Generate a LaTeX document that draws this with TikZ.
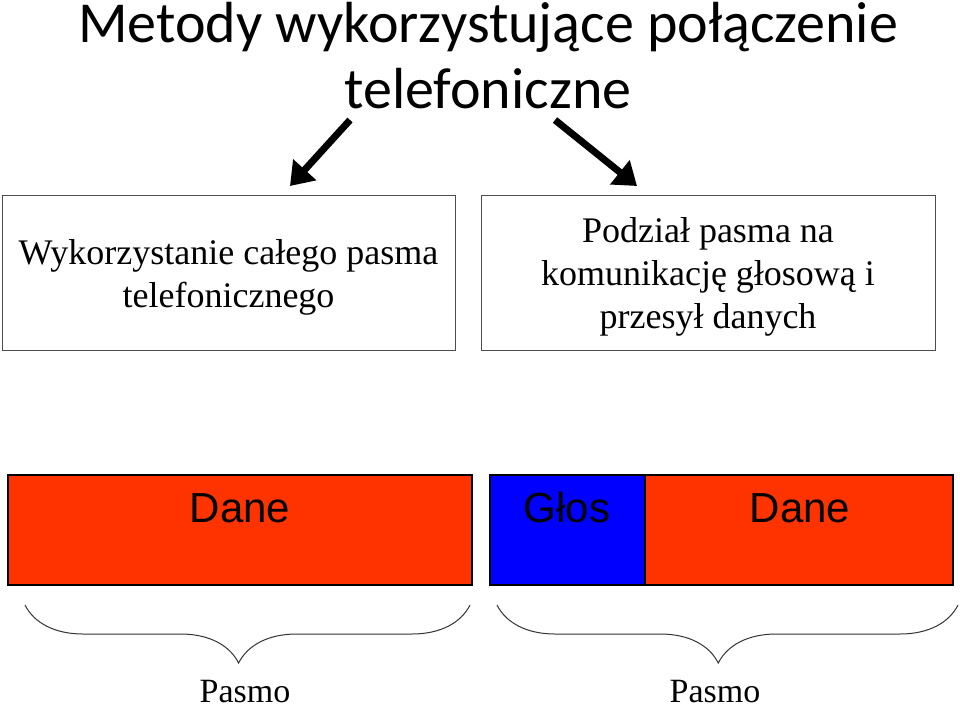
\documentclass[tikz,border=0pt]{standalone}
\usepackage{fontspec}
\setmainfont{Liberation Serif}
\newfontfamily\titlefont{Carlito}
\newfontfamily\barfont{Liberation Sans}
\usetikzlibrary{arrows.meta,decorations.pathreplacing}
\definecolor{barred}{HTML}{FF3300}
\begin{document}
\begin{tikzpicture}[x=1pt,y=-1pt,
  ttl/.style={font=\titlefont\fontsize{58}{64}\selectfont,anchor=base,inner sep=0pt},
  boxtxt/.style={font=\fontsize{36}{43}\selectfont,align=center},
  frame/.style={draw=black!70,line width=1pt},
  bar/.style={draw=black,line width=2.5pt},
  bartxt/.style={font=\barfont\fontsize{42}{48}\selectfont,anchor=base,inner sep=0pt},
  bigarrow/.style={line width=7pt,-{Triangle[length=22pt,width=30pt]}},
  brc/.style={decorate,decoration={brace,mirror,amplitude=58pt,aspect=0.48},line width=1pt,black!80},
  lbl/.style={font=\fontsize{34}{40}\selectfont,anchor=base,inner sep=0pt}]
\useasboundingbox (0,0) rectangle (960,705);
\node[ttl] (t1) at (488,42) {Metody wykorzystujące połączenie};
\node[ttl] (t2) at (488,108) {telefoniczne};
\coordinate (a1s) at (350,120); \coordinate (a1e) at (290,186);
\coordinate (a2s) at (555,120); \coordinate (a2e) at (637,186);
\draw[bigarrow] (a1s) -- (a1e);
\draw[bigarrow] (a2s) -- (a2e);
\node[frame,minimum width=453pt,minimum height=155pt,inner sep=0pt] (b1) at (228.5,272.5) {};
\node[boxtxt] at ([yshift=-5pt]b1.center) {Wykorzystanie całego pasma\\telefonicznego};
\node[frame,minimum width=454pt,minimum height=155pt,inner sep=0pt] (b2) at (708,272.5) {};
\node[boxtxt] at ([yshift=-4pt]b2.center) {Podział pasma na\\komunikację głosową i\\przesył danych};
\node[bar,fill=barred,minimum width=464pt,minimum height=110pt,inner sep=0pt] (r1) at (240,530) {};
\node[bar,fill=blue,minimum width=155pt,minimum height=110pt,inner sep=0pt] (g) at (567.5,530) {};
\node[bar,fill=barred,minimum width=308pt,minimum height=110pt,inner sep=0pt] (r2) at (799,530) {};
\node[bartxt] at (240,522) {Dane};
\node[bartxt] at (567,522) {Głos};
\node[bartxt] at (800,522) {Dane};
\coordinate (c1) at (25,605); \coordinate (c2) at (470,605);
\coordinate (c3) at (497,605); \coordinate (c4) at (958,605);
\draw[brc] (c1) -- (c2);
\draw[brc] (c3) -- (c4);
\node[lbl] (p1) at (245,702) {Pasmo};
\node[lbl] (p2) at (715,702) {Pasmo};
\end{tikzpicture}
\end{document}
